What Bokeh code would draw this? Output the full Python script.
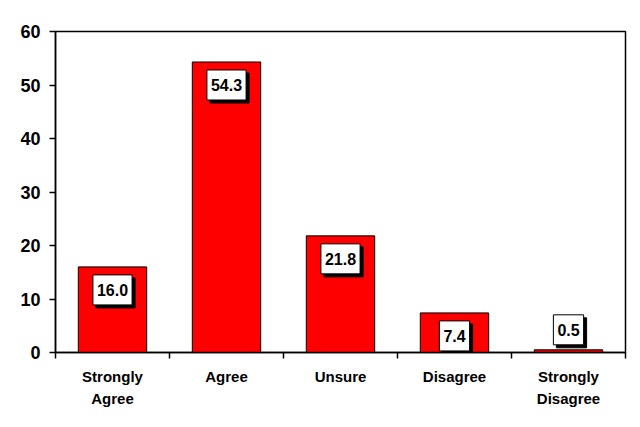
from bokeh.plotting import figure
from bokeh.models import Range1d, FixedTicker, Label, ColumnDataSource
from bokeh.embed import file_html
from bokeh.resources import INLINE

categories = ["Strongly\nAgree", "Agree", "Unsure", "Disagree", "Strongly\nDisagree"]
values = [16.0, 54.3, 21.8, 7.4, 0.5]
value_labels = ["16.0", "54.3", "21.8", "7.4", "0.5"]
y_ticks = [0, 10, 20, 30, 40, 50, 60]

FONT = "Liberation Sans"
xs = [i + 0.5 for i in range(len(categories))]

p = figure(width=635, height=420, output_backend="svg", toolbar_location=None,
           x_range=Range1d(0, len(categories)), y_range=Range1d(0, 60),
           min_border_left=55, min_border_right=10, min_border_top=31, min_border_bottom=68)
p.background_fill_color = "white"
p.border_fill_color = "white"
p.outline_line_color = "black"
p.outline_line_width = 1.5
p.xgrid.visible = False
p.ygrid.visible = False

src = ColumnDataSource(dict(x=xs, top=values))
p.vbar(x="x", top="top", bottom=0, width=0.6, source=src,
       fill_color="#ff0000", line_color="black", line_width=1)

# y axis
p.yaxis.ticker = FixedTicker(ticks=y_ticks)
p.yaxis.major_tick_out = 6
p.yaxis.major_tick_in = 0
p.yaxis.minor_tick_out = 0
p.yaxis.minor_tick_in = 0
p.yaxis.axis_line_color = "black"
p.yaxis.axis_line_width = 1.5
p.yaxis.major_tick_line_width = 1.5
p.yaxis.major_label_text_font = FONT
p.yaxis.major_label_text_font_style = "bold"
p.yaxis.major_label_text_font_size = "18px"
p.yaxis.major_label_text_color = "black"
p.yaxis.major_label_standoff = 9

# x axis
p.xaxis.ticker = FixedTicker(ticks=xs, minor_ticks=list(range(len(categories) + 1)))
p.xaxis.major_label_overrides = {x: c for x, c in zip(xs, categories)}
p.xaxis.major_tick_out = 0
p.xaxis.major_tick_in = 0
p.xaxis.minor_tick_out = 6
p.xaxis.minor_tick_in = 0
p.xaxis.minor_tick_line_color = "black"
p.xaxis.minor_tick_line_width = 1.5
p.xaxis.axis_line_color = "black"
p.xaxis.axis_line_width = 1.5
p.xaxis.major_label_text_font = FONT
p.xaxis.major_label_text_font_style = "bold"
p.xaxis.major_label_text_font_size = "15px"
p.xaxis.major_label_text_color = "black"
p.xaxis.major_label_text_line_height = 1.3
p.xaxis.major_label_standoff = 9

pad = dict(left=4, right=4, top=9, bottom=9)
for x, v, t in zip(xs, values, value_labels):
    off = -23 if v > 3 else 20
    shadow = Label(x=x, y=v, text=t, x_offset=3, y_offset=off - 3,
                   text_align="center", text_baseline="middle",
                   text_font=FONT, text_font_style="bold", text_font_size="16px",
                   text_color="black", background_fill_color="black",
                   border_line_color="black", padding=pad)
    lab = Label(x=x, y=v, text=t, y_offset=off,
                text_align="center", text_baseline="middle",
                text_font=FONT, text_font_style="bold", text_font_size="16px",
                text_color="black", background_fill_color="white",
                border_line_color="black", border_line_width=1, padding=pad)
    p.add_layout(shadow)
    p.add_layout(lab)

open("out.html", "w").write(file_html(p, INLINE))
